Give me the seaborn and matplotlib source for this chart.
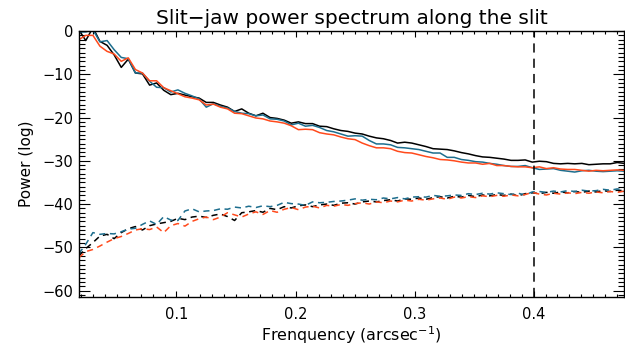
import numpy as np
import pandas as pd
import matplotlib
matplotlib.use('Agg')
import matplotlib.pyplot as plt
from matplotlib.ticker import MultipleLocator
import seaborn as sns

# spatial frequency grid (arcsec^-1)
freq = [0.0179, 0.0238, 0.0298, 0.0357, 0.0417, 0.0476, 0.0536, 0.0595, 0.0655, 0.0714,
        0.0774, 0.0833, 0.0893, 0.0952, 0.1012, 0.1071, 0.1131, 0.1190, 0.1250, 0.1310,
        0.1369, 0.1429, 0.1488, 0.1548, 0.1607, 0.1667, 0.1726, 0.1786, 0.1845, 0.1905,
        0.1964, 0.2024, 0.2083, 0.2143, 0.2202, 0.2262, 0.2321, 0.2381, 0.2440, 0.2500,
        0.2560, 0.2619, 0.2679, 0.2738, 0.2798, 0.2857, 0.2917, 0.2976, 0.3036, 0.3095,
        0.3155, 0.3214, 0.3274, 0.3333, 0.3393, 0.3452, 0.3512, 0.3571, 0.3631, 0.3690,
        0.3750, 0.3810, 0.3869, 0.3929, 0.3988, 0.4048, 0.4107, 0.4167, 0.4226, 0.4286,
        0.4345, 0.4405, 0.4464, 0.4524, 0.4583, 0.4643, 0.4702, 0.4762]

# solid curves
black_solid = [0.3, -2.2, 0.8, -2.4, -3.3, -5.5, -8.4, -6.5, -9.7, -9.9,
               -12.5, -12.0, -13.7, -14.7, -14.4, -14.8, -15.2, -15.5, -16.5, -16.5,
               -17.1, -17.6, -18.6, -18.0, -19.0, -19.6, -19.0, -20.0, -20.2, -20.6,
               -21.3, -21.0, -21.4, -21.4, -22.0, -22.1, -22.6, -23.0, -23.2, -23.6,
               -23.8, -24.3, -24.7, -24.9, -25.3, -25.9, -25.7, -25.9, -26.3, -26.7,
               -27.2, -27.3, -27.4, -27.7, -28.1, -28.4, -28.8, -29.1, -29.2, -29.4,
               -29.6, -29.9, -29.9, -29.8, -30.3, -30.1, -30.2, -30.6, -30.7, -30.6,
               -30.7, -30.6, -30.9, -30.8, -30.7, -30.7, -30.4, -30.6]
blue_solid = [-0.2, -0.2, 0.3, -2.5, -2.2, -4.3, -6.1, -6.4, -9.7, -9.7,
              -11.6, -13.0, -13.1, -14.1, -13.6, -14.4, -15.0, -15.7, -17.6, -16.8,
              -17.4, -17.8, -18.6, -19.0, -19.1, -19.6, -19.4, -20.3, -20.4, -20.8,
              -21.7, -21.3, -22.0, -21.8, -22.3, -23.0, -23.3, -23.8, -24.3, -24.2,
              -24.3, -25.3, -26.1, -26.1, -26.3, -26.9, -27.0, -27.2, -27.4, -27.8,
              -28.2, -28.2, -29.2, -29.2, -29.7, -29.9, -30.2, -30.3, -30.6, -30.8,
              -31.1, -31.3, -31.3, -31.1, -31.6, -32.0, -31.9, -31.8, -32.2, -32.4,
              -32.6, -32.3, -32.2, -32.4, -32.5, -32.4, -32.3, -32.4]
red_solid = [-2.0, -1.0, -1.0, -3.5, -4.7, -5.3, -7.0, -6.2, -8.9, -9.7,
             -11.5, -11.5, -13.1, -13.8, -14.5, -15.2, -15.5, -15.9, -17.1, -16.9,
             -17.6, -18.0, -19.0, -19.1, -19.6, -20.1, -20.3, -20.8, -21.0, -21.3,
             -21.9, -22.8, -22.7, -22.8, -23.5, -23.8, -24.0, -24.5, -24.9, -25.1,
             -25.9, -26.5, -27.0, -27.0, -27.2, -27.8, -28.1, -28.2, -28.6, -29.0,
             -29.3, -29.7, -29.8, -30.0, -30.3, -30.5, -30.5, -30.8, -30.6, -31.1,
             -31.1, -31.3, -31.4, -31.4, -31.6, -31.4, -31.8, -31.6, -31.9, -32.0,
             -32.0, -32.2, -32.4, -32.2, -32.3, -32.2, -32.1, -32.2]

# dashed curves
black_dashed = [-52.0, -50.3, -48.9, -47.4, -47.0, -48.0, -46.6, -45.7, -45.2, -46.0,
                -45.0, -44.6, -44.3, -44.0, -43.3, -43.6, -43.0, -42.8, -43.1, -42.6,
                -42.3, -42.9, -43.8, -42.0, -41.8, -41.5, -41.9, -41.0, -41.3, -40.6,
                -40.9, -40.4, -40.2, -40.6, -40.2, -40.0, -40.3, -39.8, -39.7, -40.0,
                -39.5, -39.3, -39.5, -39.2, -39.0, -39.3, -38.8, -38.9, -38.6, -38.9,
                -38.5, -38.3, -38.6, -38.2, -38.4, -38.0, -38.3, -37.9, -38.1, -37.8,
                -38.0, -37.7, -38.1, -37.6, -37.4, -37.6, -37.3, -37.5, -37.2, -37.4,
                -37.1, -37.3, -37.0, -37.2, -36.9, -37.1, -36.8, -36.9]
blue_dashed = [-51.5, -49.3, -46.6, -47.0, -46.8, -46.9, -46.4, -45.8, -45.6, -44.7,
               -43.9, -44.7, -42.9, -43.7, -43.8, -41.6, -41.1, -41.8, -41.6, -41.5,
               -41.1, -41.2, -40.7, -40.9, -40.5, -40.8, -40.4, -40.6, -40.3, -39.6,
               -39.9, -40.0, -40.3, -39.5, -39.7, -39.6, -39.4, -39.3, -39.1, -38.8,
               -39.1, -38.9, -39.0, -38.6, -38.8, -38.5, -38.8, -38.4, -38.3, -38.4,
               -38.0, -38.2, -38.1, -37.9, -38.0, -37.6, -37.8, -37.5, -37.7, -37.4,
               -37.6, -37.8, -37.5, -37.9, -37.2, -37.1, -37.3, -37.0, -37.2, -36.9,
               -37.1, -36.8, -37.0, -36.9, -36.6, -36.8, -36.5, -36.7]
red_dashed = [-52.4, -51.0, -50.5, -49.7, -48.8, -48.0, -47.5, -46.8, -46.0, -45.7,
              -45.9, -45.3, -46.6, -45.0, -44.5, -45.1, -44.0, -43.4, -43.0, -43.6,
              -43.0, -42.0, -42.5, -43.0, -42.3, -41.8, -42.4, -41.5, -41.9, -41.2,
              -40.8, -41.3, -40.7, -40.5, -40.9, -40.3, -40.5, -40.1, -40.3, -39.9,
              -39.7, -40.0, -39.5, -39.7, -39.3, -39.5, -39.1, -39.3, -38.9, -39.1,
              -38.8, -38.6, -38.9, -38.4, -38.6, -38.3, -38.5, -38.1, -38.3, -38.0,
              -38.2, -37.9, -38.1, -37.8, -37.3, -37.7, -37.9, -37.5, -37.7, -37.4,
              -37.6, -37.3, -37.5, -37.2, -37.4, -37.1, -37.3, -37.0]

cut_freq = 0.4

series = {('black', 'solid'): black_solid, ('blue', 'solid'): blue_solid, ('red', 'solid'): red_solid,
          ('black', 'dashed'): black_dashed, ('blue', 'dashed'): blue_dashed, ('red', 'dashed'): red_dashed}
rows = []
for (ch, kind), vals in series.items():
    for f, v in zip(freq, vals):
        rows.append({'freq': f, 'power': v, 'channel': ch, 'kind': kind})
df = pd.DataFrame(rows)

sns.set_style('ticks')
plt.rcParams['font.family'] = ['DejaVu Sans']
plt.rcParams['text.color'] = 'black'
plt.rcParams['axes.labelcolor'] = 'black'

fig = plt.figure(figsize=(6.25, 3.45), dpi=100)
ax = fig.add_axes([0.126, 0.139, 0.873, 0.771])

palette = {'black': '#000000', 'blue': '#1d6e8e', 'red': '#ff4a1c'}
sns.lineplot(data=df, x='freq', y='power', hue='channel', style='kind',
             hue_order=['black', 'blue', 'red'], palette=palette,
             dashes={'solid': '', 'dashed': (4, 3)}, linewidth=1.1,
             estimator=None, sort=False, legend=False, ax=ax)

ax.axvline(cut_freq, color='black', linestyle=(0, (6, 4)), linewidth=1.1)

ax.set_xlim(freq[0], freq[-1])
ax.set_ylim(-61.5, 0)
ax.xaxis.set_major_locator(MultipleLocator(0.1))
ax.xaxis.set_minor_locator(MultipleLocator(0.01))
ax.yaxis.set_major_locator(MultipleLocator(10))
ax.yaxis.set_minor_locator(MultipleLocator(1))
ax.tick_params(axis='both', which='both', direction='in', top=True, right=True,
               colors='black', labelsize=10.5)
ax.tick_params(axis='y', which='major', length=8, width=0.8, pad=4)
ax.tick_params(axis='y', which='minor', length=4, width=0.8)
ax.tick_params(axis='x', which='major', length=4, width=0.8, pad=7)
ax.tick_params(axis='x', which='minor', length=2, width=0.8)
for s in ax.spines.values():
    s.set_linewidth(1.0)
    s.set_color('black')

ax.set_xlabel('Frenquency (arcsec$^{-1}$)', fontsize=11.4, labelpad=2)
ax.set_ylabel('Power (log)', fontsize=11, labelpad=6)
ax.set_title('Slit\u2212jaw power spectrum along the slit', fontsize=14.5, pad=5)

fig.savefig('out.png', dpi=100)
